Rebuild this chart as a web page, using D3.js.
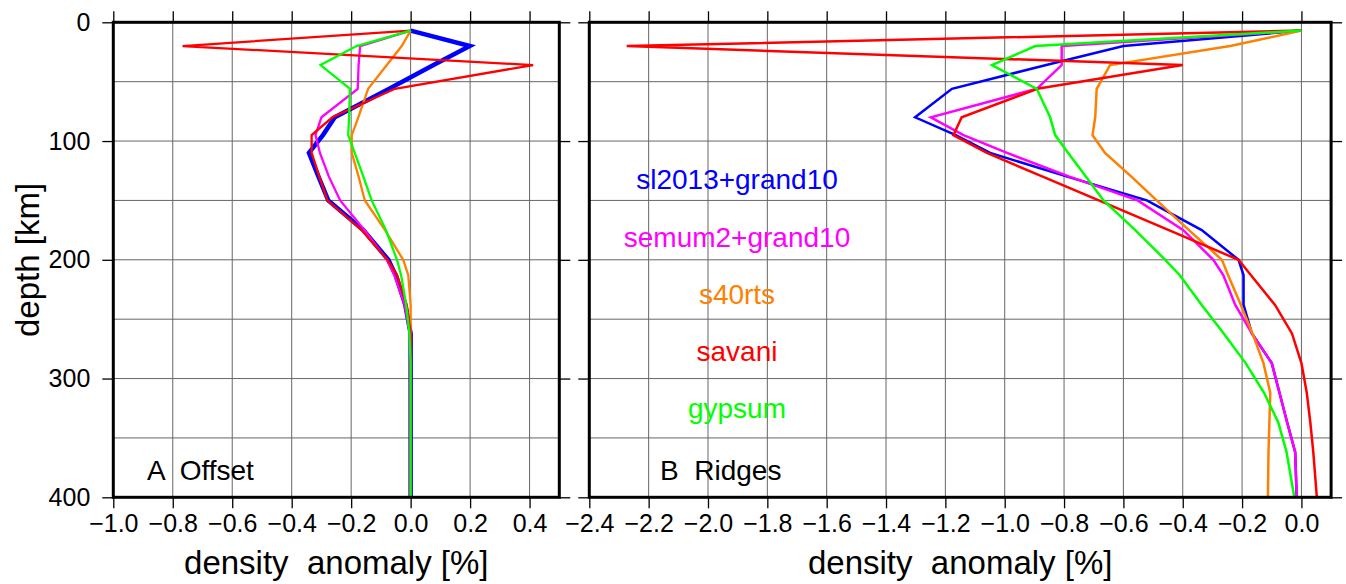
<!DOCTYPE html>
<html>
<head>
<meta charset="utf-8">
<script src="https://cdn.jsdelivr.net/npm/d3@7"></script>
<style>
  html, body { margin: 0; padding: 0; background: #fff; }
  svg { display: block; }
  text { font-family: "Liberation Sans", Arial, Helvetica, sans-serif; fill: #000; }
</style>
</head>
<body>
<svg id="chart" width="1346" height="584"></svg>
<script>
// ---------------- data ----------------
const depths = [7, 20, 36, 56, 80, 95, 110, 130, 150, 175, 200, 213, 238, 262, 287, 312, 337, 362, 400];

const modelNames = ["sl2013+grand10", "semum2+grand10", "s40rts", "savani", "gypsum"];

// Panel A: Offset
const offsetSl2013 = [0, 0.199, 0.077, -0.072, -0.255, -0.295, -0.342, -0.31, -0.277, -0.159, -0.075, -0.05, -0.018, 0, 0, 0, 0, 0, 0];
const offsetSemum2 = [0, -0.17, -0.175, -0.178, -0.30, -0.32, -0.305, -0.275, -0.237, -0.155, -0.08, -0.055, -0.02, -0.003, 0, 0, 0, 0, 0];
const offsetS40rts = [0, -0.03, -0.08, -0.143, -0.176, -0.198, -0.198, -0.175, -0.154, -0.086, -0.025, -0.008, 0, 0, 0, 0, 0, 0, 0];
const offsetSavani = [0, -0.767, 0.412, -0.053, -0.263, -0.333, -0.333, -0.307, -0.28, -0.165, -0.078, -0.045, -0.013, 0, 0, 0, 0, 0, 0];
const offsetGypsum = [0, -0.182, -0.303, -0.204, -0.207, -0.21, -0.188, -0.159, -0.131, -0.083, -0.046, -0.032, -0.015, -0.004, 0, 0, 0, 0, 0];

// Panel B: Ridges
const ridgesSl2013 = [0, -0.60, -0.86, -1.178, -1.302, -1.165, -1.049, -0.789, -0.521, -0.336, -0.212, -0.195, -0.195, -0.167, -0.10, -0.074, -0.048, -0.021, -0.016];
const ridgesSemum2 = [0, -0.808, -0.808, -0.892, -1.249, -1.139, -0.992, -0.782, -0.552, -0.398, -0.297, -0.263, -0.223, -0.167, -0.10, -0.074, -0.048, -0.021, -0.016];
const ridgesS40rts = [0, -0.24, -0.645, -0.69, -0.695, -0.704, -0.662, -0.573, -0.488, -0.379, -0.268, -0.247, -0.204, -0.165, -0.128, -0.105, -0.108, -0.111, -0.113];
const ridgesSavani = [0, -2.274, -0.40, -0.89, -1.145, -1.173, -1.06, -0.872, -0.683, -0.447, -0.212, -0.17, -0.089, -0.032, 0.0, 0.018, 0.03, 0.04, 0.052];
const ridgesGypsum = [0, -0.897, -1.043, -0.892, -0.847, -0.83, -0.786, -0.726, -0.667, -0.56, -0.459, -0.41, -0.336, -0.262, -0.188, -0.126, -0.078, -0.05, -0.024];

const xTicksA = [-1.0, -0.8, -0.6, -0.4, -0.2, 0.0, 0.2, 0.4];
const xTicksB = [-2.4, -2.2, -2.0, -1.8, -1.6, -1.4, -1.2, -1.0, -0.8, -0.6, -0.4, -0.2, 0.0];
const yTicks = [0, 100, 200, 300, 400];
const yGrid = [50, 100, 150, 200, 250, 300, 350];

const xTitle = "density  anomaly [%]";
const yTitle = "depth [km]";

// ---------------- styles ----------------
const colors = ["#0000ff", "#ff00ff", "#ff8000", "#ff0000", "#00ff00"];

const svg = d3.select("#chart");
svg.append("rect").attr("width", 1346).attr("height", 584).attr("fill", "#fff");

const yTop = 22.3, yBot = 497.3;
const y = d3.scaleLinear().domain([0, 400]).range([yTop, yBot]);

const panels = [
  { id: "A", label: "A  Offset", domain: [-1.0, 0.5], range: [113.3, 559.3], ticks: xTicksA,
    series: [offsetSl2013, offsetSemum2, offsetS40rts, offsetSavani, offsetGypsum],
    widths: [4.5, 2.3, 2.3, 2.3, 2.3], leftLabels: true, labelX: 147 },
  { id: "B", label: "B  Ridges", domain: [-2.4, 0.1], range: [589.3, 1331.1], ticks: xTicksB,
    series: [ridgesSl2013, ridgesSemum2, ridgesS40rts, ridgesSavani, ridgesGypsum],
    widths: [2.5, 2.5, 2.5, 2.5, 2.5], leftLabels: false, labelX: 660 }
];

const fmt = d3.format(".1f");

function styleAxis(g, showLabels) {
  g.select(".domain").remove();
  g.selectAll(".tick line").attr("stroke", "#000").attr("stroke-width", 1.3);
  g.selectAll(".tick text")
    .style("font-family", "'Liberation Sans', Arial, sans-serif")
    .style("font-size", "25px")
    .attr("fill", "#000");
  if (!showLabels) g.selectAll(".tick text").remove();
}

panels.forEach(p => {
  const x = d3.scaleLinear().domain(p.domain).range(p.range);
  const g = svg.append("g");

  // grid
  const grid = g.append("g");
  grid.selectAll("line.v").data(p.ticks).join("line")
    .attr("x1", d => x(d)).attr("x2", d => x(d))
    .attr("y1", yTop).attr("y2", yBot)
    .attr("stroke", "#666").attr("stroke-width", 1);
  grid.selectAll("line.h").data(yGrid).join("line")
    .attr("x1", p.range[0]).attr("x2", p.range[1])
    .attr("y1", d => y(d)).attr("y2", d => y(d))
    .attr("stroke", "#666").attr("stroke-width", 1);

  // lines
  const line = d3.line().x(d => x(d[1])).y(d => y(d[0]));
  p.series.forEach((vals, i) => {
    const pts = depths.map((dep, k) => [dep, vals[k]]);
    g.append("path").datum(pts)
      .attr("d", line)
      .attr("fill", "none")
      .attr("stroke", colors[i])
      .attr("stroke-width", p.widths[i])
      .attr("stroke-linejoin", "miter")
      .attr("stroke-miterlimit", 4);
  });

  // frame
  g.append("rect")
    .attr("x", p.range[0]).attr("y", yTop)
    .attr("width", p.range[1] - p.range[0]).attr("height", yBot - yTop)
    .attr("fill", "none").attr("stroke", "#000").attr("stroke-width", 3);

  // axes
  const bottom = g.append("g").attr("transform", `translate(0,${yBot})`)
    .call(d3.axisBottom(x).tickValues(p.ticks).tickSize(11).tickPadding(6).tickFormat(fmt));
  styleAxis(bottom, true);
  const top = g.append("g").attr("transform", `translate(0,${yTop})`)
    .call(d3.axisTop(x).tickValues(p.ticks).tickSize(11));
  styleAxis(top, false);
  const left = g.append("g").attr("transform", `translate(${p.range[0]},0)`)
    .call(d3.axisLeft(y).tickValues(yTicks).tickSize(11).tickPadding(12).tickFormat(d3.format("d")));
  styleAxis(left, p.leftLabels);
  const right = g.append("g").attr("transform", `translate(${p.range[1]},0)`)
    .call(d3.axisRight(y).tickValues(yTicks).tickSize(11));
  styleAxis(right, false);

  // panel label
  g.append("text")
    .attr("x", p.labelX).attr("y", 480)
    .attr("xml:space", "preserve")
    .style("white-space", "pre")
    .style("font-size", "28px")
    .text(p.label);

  // x title
  g.append("text")
    .attr("x", (p.range[0] + p.range[1]) / 2 + (p.id === "A" ? 0 : 0))
    .attr("y", 574)
    .attr("text-anchor", "middle")
    .attr("xml:space", "preserve")
    .style("white-space", "pre")
    .style("font-size", "33px")
    .text(xTitle);
});

// y title
svg.append("text")
  .attr("transform", "translate(39,260) rotate(-90)")
  .attr("text-anchor", "middle")
  .style("font-size", "33px")
  .text(yTitle);

// legend (panel B)
const legendY = [189, 247, 304, 361, 418];
svg.append("g").selectAll("text").data(modelNames).join("text")
  .attr("x", 737)
  .attr("y", (d, i) => legendY[i])
  .attr("text-anchor", "middle")
  .style("font-size", "28px")
  .attr("fill", (d, i) => colors[i])
  .style("fill", (d, i) => colors[i])
  .text(d => d);
</script>
</body>
</html>
